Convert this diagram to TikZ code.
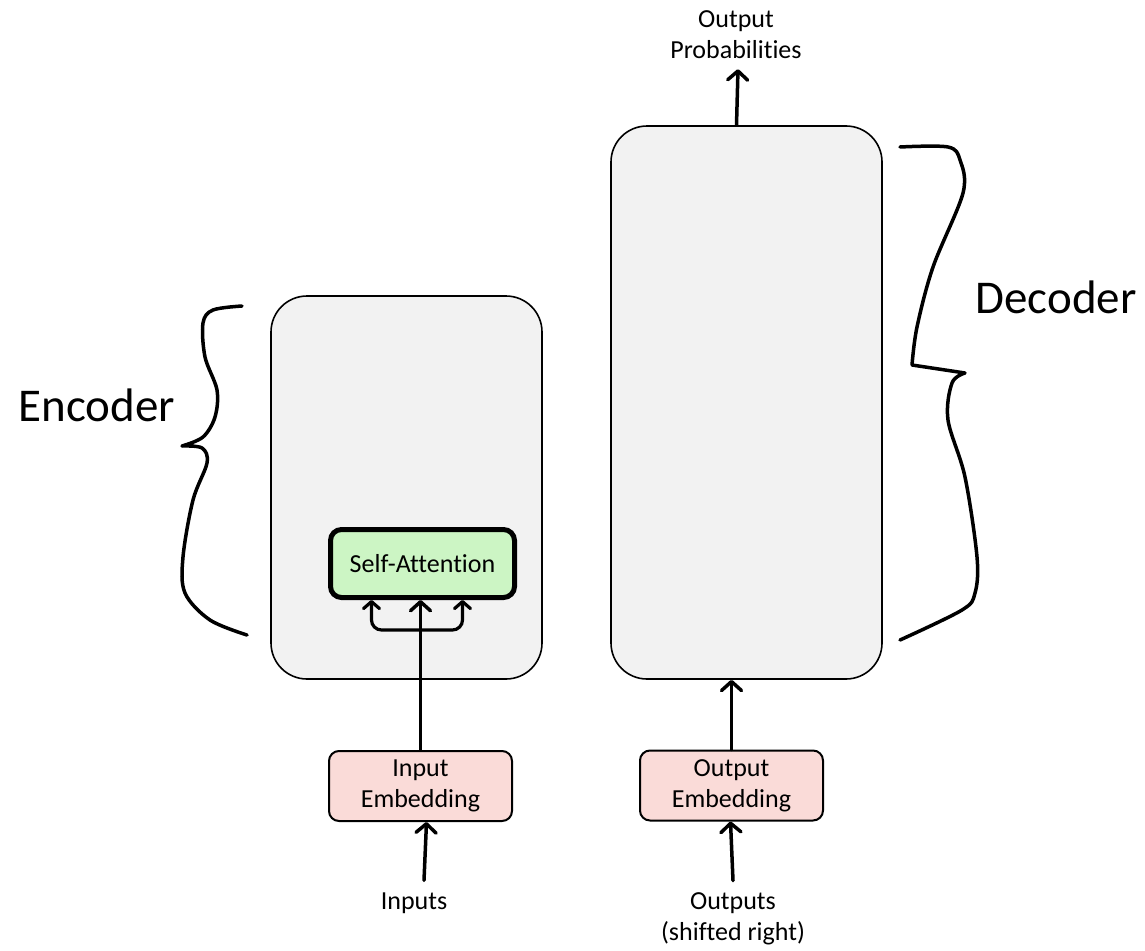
\documentclass[tikz,border=0pt]{standalone}
\usepackage{fontspec}
\setmainfont[Ligatures=NoCommon]{Carlito}
\usepackage{tikz}
\usetikzlibrary{arrows.meta, positioning}
\definecolor{blockgray}{RGB}{242,242,242}
\definecolor{attgreen}{RGB}{204,245,196}
\definecolor{embpink}{RGB}{250,219,216}
\tikzset{
  block/.style={rectangle, rounded corners=36pt, draw=black, line width=1.6pt, fill=blockgray,
                minimum width=271pt},
  att/.style={rectangle, rounded corners=11pt, draw=black, line width=5pt, fill=attgreen,
              minimum width=184pt, minimum height=68pt, font=\fontsize{26}{31}\selectfont},
  emb/.style={rectangle, rounded corners=10pt, draw=black, line width=2pt, fill=embpink,
              minimum width=183pt, minimum height=70pt, inner sep=0pt, align=center,
              font=\fontsize{26}{31}\selectfont},
  lbl/.style={align=center, inner sep=0pt, font=\fontsize{26}{31}\selectfont},
  big/.style={inner sep=0pt, font=\fontsize{47}{56}\selectfont},
  fl/.style={-{Straight Barb[length=9pt, width=20pt, line cap=round, line join=round]},
             line width=3.5pt, line cap=round},
  sfl/.style={-{Straight Barb[length=7pt, width=16pt, line cap=round, line join=round]},
              line width=3.2pt, line cap=round, rounded corners=10pt},
  brace/.style={line width=3.5pt, line cap=round, line join=round}
}

\begin{document}
\begin{tikzpicture}[x=1pt, y=-1pt]
\useasboundingbox (0,0) rectangle (1145,950);
% blocks
\node[block, minimum height=383pt] (enc) at (406.5,487.5) {};
\node[block, minimum height=553pt] (dec) at (746.5,402.5) {};
\node[att] (sa) at (422.5,563.5) {Self-Attention};
\node[emb] (inemb) at (420.5,786) {Input\\Embedding};
\node[emb] (outemb) at (731.5,785.5) {Output\\Embedding};
% labels
\node[lbl] (inp) at (414,903) {Inputs};
\node[lbl] (outp) at (733,919) {Outputs\\(shifted right)};
\node[lbl] (prob) at (736,35) {Output\\Probabilities};
\node[big] (enclbl) at (97,405) {Encoder};
\node[big] (declbl) at (1056,297) {Decoder};
% arrows
\draw[fl] ([xshift=10pt, yshift=12pt]inp.north) -- ([xshift=6pt]inemb.south);
\draw[fl] ([yshift=12pt]outp.north) -- ([xshift=-1pt]outemb.south);
\draw[fl] (inemb.north) -- (inemb.north |- sa.south);
\coordinate (split) at (421,630);
\draw[sfl] (split) -| ([xshift=-51pt]sa.south);
\draw[sfl] (split) -| ([xshift=40pt]sa.south);
\draw[fl] (outemb.north) -- (outemb.north |- dec.south);
\draw[fl] ([xshift=-10pt]dec.north) -- ([xshift=2pt, yshift=-10pt]prob.south);
% braces
\draw[brace] plot[smooth, tension=0.55] coordinates {(242,306) (213,310) (203,323) (205,357)
  (217,390) (215,417) (203,437) (182,446)}
  -- plot[smooth, tension=0.55] coordinates {(182,446) (202,448) (207,463) (193,500)
  (183,557) (185,593) (210,620) (247,635)};
\draw[brace] plot[smooth, tension=0.55] coordinates {(900,147) (948,147) (960,160) (963,193)
  (933,267) (917,327) (912,365)}
  -- (965,373)
  -- plot[smooth, tension=0.55] coordinates {(965,373) (952,383) (948,420) (965,477)
  (977,557) (975,593) (962,610) (900,640)};
\end{tikzpicture}
\end{document}
